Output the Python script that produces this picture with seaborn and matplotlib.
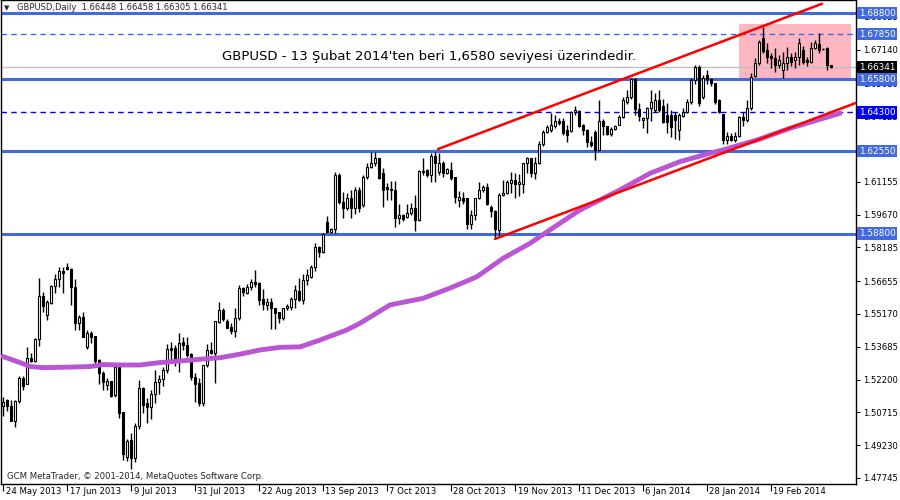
import matplotlib
matplotlib.use("Agg")
import matplotlib.pyplot as plt
import matplotlib.transforms as mtransforms
from matplotlib.patches import Rectangle
import numpy as np
import pandas as pd
import seaborn as sns

sns.set_theme(style="white")
plt.rcParams["font.family"] = ["DejaVu Sans"]

# GBPUSD daily candles (bar index 0 = 24 May 2013)
opens = [
    1.5102, 1.5128, 1.5101, 1.5034, 1.5125, 1.5229, 1.5202, 1.5319, 1.5306, 1.5403,
    1.5599, 1.5511, 1.5568, 1.5644, 1.5674, 1.5713, 1.5729, 1.5720, 1.5638, 1.5478,
    1.5502, 1.5369, 1.5430, 1.5418, 1.5309, 1.5251, 1.5196, 1.5214, 1.5150, 1.5294,
    1.5074, 1.4868, 1.4947, 1.4864, 1.5010, 1.5181, 1.5113, 1.5095, 1.5155, 1.5209,
    1.5221, 1.5264, 1.5364, 1.5364, 1.5309, 1.5389, 1.5377, 1.5335, 1.5233, 1.5206,
    1.5113, 1.5285, 1.5354, 1.5342, 1.5482, 1.5535, 1.5485, 1.5457, 1.5440, 1.5498,
    1.5634, 1.5614, 1.5641, 1.5664, 1.5656, 1.5584, 1.5559, 1.5572, 1.5546, 1.5525,
    1.5498, 1.5543, 1.5550, 1.5584, 1.5621, 1.5581, 1.5671, 1.5686, 1.5729, 1.5819,
    1.5799, 1.5934, 1.5890, 1.5901, 1.6147, 1.6026, 1.5996, 1.6041, 1.5996, 1.6079,
    1.6010, 1.6136, 1.6184, 1.6199, 1.6222, 1.6157, 1.6090, 1.6082, 1.6079, 1.5951,
    1.5966, 1.5955, 1.5976, 1.5996, 1.5943, 1.6162, 1.6169, 1.6147, 1.6233, 1.6160,
    1.6199, 1.6157, 1.6169, 1.6139, 1.6033, 1.6044, 1.6041, 1.5923, 1.5964, 1.6041,
    1.6079, 1.6094, 1.6000, 1.5985, 1.5898, 1.6056, 1.6066, 1.6109, 1.6124, 1.6106,
    1.6106, 1.6199, 1.6222, 1.6154, 1.6202, 1.6287, 1.6343, 1.6350, 1.6368, 1.6392,
    1.6392, 1.6350, 1.6347, 1.6430, 1.6438, 1.6373, 1.6350, 1.6297, 1.6343, 1.6260,
    1.6392, 1.6368, 1.6332, 1.6354, 1.6373, 1.6411, 1.6476, 1.6501, 1.6580, 1.6444,
    1.6396, 1.6403, 1.6448, 1.6441, 1.6486, 1.6460, 1.6420, 1.6420, 1.6418, 1.6350,
    1.6413, 1.6433, 1.6479, 1.6577, 1.6637, 1.6501, 1.6600, 1.6580, 1.6562, 1.6486,
    1.6423, 1.6305, 1.6323, 1.6305, 1.6323, 1.6408, 1.6396, 1.6449, 1.6595, 1.6652,
    1.6765, 1.6713, 1.6685, 1.6675, 1.6645, 1.6622, 1.6655, 1.6682, 1.6667, 1.6682,
    1.6713, 1.6667, 1.6660, 1.6720, 1.6739, 1.6718, 1.6720, 1.66448,
]
highs = [
    1.5143, 1.5131, 1.5128, 1.5128, 1.5236, 1.5236, 1.5369, 1.5342, 1.5410, 1.5679,
    1.5618, 1.5581, 1.5650, 1.5698, 1.5731, 1.5731, 1.5747, 1.5724, 1.5674, 1.5513,
    1.5528, 1.5445, 1.5442, 1.5418, 1.5312, 1.5260, 1.5226, 1.5214, 1.5294, 1.5294,
    1.5075, 1.4950, 1.4980, 1.5022, 1.5218, 1.5188, 1.5135, 1.5173, 1.5264, 1.5241,
    1.5279, 1.5381, 1.5392, 1.5377, 1.5430, 1.5412, 1.5412, 1.5339, 1.5251, 1.5226,
    1.5285, 1.5380, 1.5392, 1.5485, 1.5573, 1.5543, 1.5495, 1.5475, 1.5543, 1.5649,
    1.5638, 1.5653, 1.5674, 1.5716, 1.5664, 1.5629, 1.5590, 1.5588, 1.5546, 1.5528,
    1.5546, 1.5562, 1.5595, 1.5649, 1.5679, 1.5698, 1.5720, 1.5739, 1.5837, 1.5825,
    1.5884, 1.5961, 1.5905, 1.6159, 1.6154, 1.6071, 1.6064, 1.6079, 1.6090, 1.6090,
    1.6145, 1.6199, 1.6252, 1.6252, 1.6225, 1.6177, 1.6112, 1.6121, 1.6121, 1.6015,
    1.5970, 1.6015, 1.6021, 1.6056, 1.6169, 1.6222, 1.6175, 1.6245, 1.6252, 1.6248,
    1.6210, 1.6180, 1.6204, 1.6139, 1.6075, 1.6069, 1.6041, 1.5988, 1.6041, 1.6116,
    1.6101, 1.6112, 1.6011, 1.5988, 1.6064, 1.6124, 1.6124, 1.6162, 1.6155, 1.6150,
    1.6202, 1.6229, 1.6222, 1.6230, 1.6300, 1.6350, 1.6373, 1.6429, 1.6420, 1.6403,
    1.6403, 1.6373, 1.6436, 1.6459, 1.6441, 1.6377, 1.6353, 1.6323, 1.6350, 1.6486,
    1.6398, 1.6368, 1.6366, 1.6373, 1.6420, 1.6500, 1.6531, 1.6585, 1.6585, 1.6471,
    1.6411, 1.6456, 1.6530, 1.6520, 1.6530, 1.6490, 1.6471, 1.6441, 1.6433, 1.6426,
    1.6450, 1.6490, 1.6585, 1.6645, 1.6645, 1.6600, 1.6622, 1.6586, 1.6562, 1.6490,
    1.6423, 1.6343, 1.6338, 1.6343, 1.6414, 1.6433, 1.6486, 1.6607, 1.6675, 1.6758,
    1.6815, 1.6743, 1.6698, 1.6720, 1.6690, 1.6705, 1.6728, 1.6700, 1.6705, 1.6765,
    1.6730, 1.6680, 1.6750, 1.6758, 1.6788, 1.6722, 1.6725, 1.66458,
]
lows = [
    1.5057, 1.5079, 1.5034, 1.5003, 1.5113, 1.5173, 1.5202, 1.5300, 1.5300, 1.5374,
    1.5528, 1.5490, 1.5560, 1.5614, 1.5641, 1.5611, 1.5716, 1.5558, 1.5445, 1.5445,
    1.5412, 1.5359, 1.5385, 1.5286, 1.5200, 1.5173, 1.5173, 1.5143, 1.5143, 1.5048,
    1.4856, 1.4852, 1.4814, 1.4848, 1.4995, 1.5070, 1.5022, 1.5040, 1.5113, 1.5154,
    1.5191, 1.5251, 1.5309, 1.5283, 1.5256, 1.5354, 1.5324, 1.5218, 1.5120, 1.5098,
    1.5101, 1.5276, 1.5336, 1.5203, 1.5475, 1.5487, 1.5452, 1.5427, 1.5415, 1.5490,
    1.5600, 1.5606, 1.5626, 1.5638, 1.5558, 1.5535, 1.5535, 1.5448, 1.5448, 1.5475,
    1.5490, 1.5535, 1.5535, 1.5546, 1.5578, 1.5560, 1.5650, 1.5679, 1.5713, 1.5777,
    1.5792, 1.5883, 1.5885, 1.5883, 1.6015, 1.5950, 1.5988, 1.5950, 1.5969, 1.5980,
    1.6000, 1.6130, 1.6177, 1.6186, 1.6127, 1.6000, 1.6033, 1.6033, 1.5913, 1.5925,
    1.5938, 1.5950, 1.5966, 1.5893, 1.5940, 1.6147, 1.6138, 1.6116, 1.6116, 1.6147,
    1.6138, 1.6150, 1.6124, 1.6018, 1.6000, 1.6015, 1.5902, 1.5902, 1.5943, 1.6037,
    1.6071, 1.6011, 1.5958, 1.5857, 1.5875, 1.6050, 1.6060, 1.6064, 1.6041, 1.6050,
    1.6067, 1.6157, 1.6139, 1.6130, 1.6195, 1.6280, 1.6335, 1.6343, 1.6360, 1.6373,
    1.6328, 1.6297, 1.6343, 1.6420, 1.6366, 1.6328, 1.6275, 1.6275, 1.6215, 1.6255,
    1.6328, 1.6328, 1.6325, 1.6350, 1.6373, 1.6405, 1.6470, 1.6490, 1.6420, 1.6393,
    1.6358, 1.6335, 1.6390, 1.6430, 1.6430, 1.6380, 1.6335, 1.6320, 1.6308, 1.6305,
    1.6410, 1.6425, 1.6470, 1.6560, 1.6460, 1.6490, 1.6560, 1.6550, 1.6470, 1.6425,
    1.6287, 1.6287, 1.6302, 1.6297, 1.6317, 1.6368, 1.6388, 1.6441, 1.6589, 1.6645,
    1.6700, 1.6652, 1.6630, 1.6614, 1.6630, 1.6585, 1.6622, 1.6640, 1.6630, 1.6645,
    1.6650, 1.6640, 1.6652, 1.6715, 1.6698, 1.6712, 1.6622, 1.66305,
]
closes = [
    1.5120, 1.5098, 1.5034, 1.5125, 1.5229, 1.5193, 1.5317, 1.5306, 1.5403, 1.5599,
    1.5551, 1.5572, 1.5644, 1.5674, 1.5713, 1.5701, 1.5720, 1.5638, 1.5478, 1.5502,
    1.5412, 1.5430, 1.5415, 1.5304, 1.5251, 1.5208, 1.5214, 1.5147, 1.5279, 1.5068,
    1.4882, 1.4944, 1.4864, 1.5010, 1.5181, 1.5104, 1.5095, 1.5155, 1.5209, 1.5221,
    1.5264, 1.5357, 1.5354, 1.5309, 1.5385, 1.5377, 1.5332, 1.5233, 1.5200, 1.5116,
    1.5285, 1.5354, 1.5342, 1.5485, 1.5535, 1.5495, 1.5455, 1.5440, 1.5498, 1.5634,
    1.5618, 1.5641, 1.5664, 1.5652, 1.5581, 1.5562, 1.5572, 1.5543, 1.5523, 1.5498,
    1.5543, 1.5553, 1.5584, 1.5626, 1.5581, 1.5671, 1.5694, 1.5731, 1.5819, 1.5799,
    1.5880, 1.5890, 1.5902, 1.6147, 1.6026, 1.5996, 1.6041, 1.5996, 1.6079, 1.5996,
    1.6136, 1.6184, 1.6199, 1.6222, 1.6132, 1.6079, 1.6082, 1.6079, 1.5951, 1.5966,
    1.5947, 1.5976, 1.5996, 1.5943, 1.6166, 1.6166, 1.6147, 1.6233, 1.6199, 1.6202,
    1.6157, 1.6172, 1.6132, 1.6046, 1.6048, 1.6030, 1.5923, 1.5964, 1.6041, 1.6079,
    1.6091, 1.6014, 1.5985, 1.5901, 1.6056, 1.6066, 1.6116, 1.6124, 1.6106, 1.6115,
    1.6199, 1.6222, 1.6154, 1.6202, 1.6287, 1.6343, 1.6363, 1.6373, 1.6392, 1.6381,
    1.6335, 1.6328, 1.6430, 1.6441, 1.6370, 1.6350, 1.6297, 1.6282, 1.6260, 1.6392,
    1.6368, 1.6332, 1.6354, 1.6368, 1.6411, 1.6486, 1.6501, 1.6580, 1.6444, 1.6414,
    1.6403, 1.6448, 1.6479, 1.6486, 1.6441, 1.6388, 1.6388, 1.6365, 1.6396, 1.6418,
    1.6433, 1.6478, 1.6577, 1.6637, 1.6471, 1.6584, 1.6580, 1.6562, 1.6478, 1.6433,
    1.6305, 1.6323, 1.6305, 1.6323, 1.6408, 1.6396, 1.6449, 1.6592, 1.6652, 1.6750,
    1.6709, 1.6680, 1.6675, 1.6645, 1.6667, 1.6655, 1.6682, 1.6660, 1.6682, 1.6743,
    1.6660, 1.6660, 1.6720, 1.6743, 1.6713, 1.6717, 1.6645, 1.66341,
]

# moving average (purple), bar index -> price
ma_idx = [0, 1.75, 4.25, 6.75, 10, 16, 21.75, 25, 29.25, 34.25, 39.25, 44.25, 49.25,
          54.25, 59.25, 64.25, 69.25, 74.25, 79.25, 86, 89.25, 96.75, 105, 111.75,
          118.5, 125, 131.75, 136.75, 144.25, 154.25, 161.75, 169.25, 176.75, 180,
          188.5, 196.75, 205, 209.25]
ma_val = [1.5324, 1.5313, 1.5297, 1.5279, 1.5274, 1.5276, 1.5279, 1.5288, 1.5286,
          1.5286, 1.5297, 1.5304, 1.5312, 1.5319, 1.5335, 1.5354, 1.5366, 1.5368,
          1.5399, 1.5445, 1.5475, 1.5558, 1.5588, 1.5634, 1.5686, 1.5769, 1.5837,
          1.5898, 1.5988, 1.6079, 1.6154, 1.6207, 1.6245, 1.6260, 1.6305, 1.6358,
          1.6403, 1.6426]

# trend channel lines
upper_x = [108.75, 204.75]
upper_y = [1.6264, 1.6922]
lower_x = [123, 213.25]
lower_y = [1.5857, 1.6473]

# horizontal levels
solid_levels = [1.6880, 1.6580, 1.6255, 1.5880]
dashed_levels = [1.6785, 1.6430]
dashed_colors = ["#4169E1", "#0000FF"]
last_price = 1.66341

# highlighted zone since 13 Feb 2014
zone_x = [184, 212]
zone_y = [1.6586, 1.6830]

# right axis
tick_vals = [1.47745, 1.49230, 1.50715, 1.52200, 1.53685, 1.55170, 1.56655, 1.58185,
             1.59670, 1.61155, 1.64125, 1.65610, 1.67140, 1.68625]
tick_text = ["1.47745", "1.49230", "1.50715", "1.52200", "1.53685", "1.55170", "1.56655",
             "1.58185", "1.59670", "1.61155", "1.64125", "1.65610", "1.67140", "1.68625"]
box_vals = [1.68800, 1.67850, 1.66341, 1.65800, 1.64300, 1.62550, 1.58800]
box_colors = ["#4169E1", "#4169E1", "#000000", "#4169E1", "#0000FF", "#4169E1", "#4169E1"]

# bottom axis
date_pos = [0, 16, 32, 48, 64, 80, 96, 112, 128, 144, 160, 176, 192]
date_labels = ["24 May 2013", "17 Jun 2013", "9 Jul 2013", "31 Jul 2013", "22 Aug 2013",
               "13 Sep 2013", "7 Oct 2013", "28 Oct 2013", "19 Nov 2013", "11 Dec 2013",
               "6 Jan 2014", "28 Jan 2014", "19 Feb 2014"]

candles = pd.DataFrame({"open": opens, "high": highs, "low": lows, "close": closes})
candles["x"] = np.arange(len(candles))
rising = candles["close"] >= candles["open"]

fig = plt.figure(figsize=(9, 5), dpi=100)
ax = fig.add_axes([1 / 900, 16 / 500, 855 / 900, 484 / 500])
ax.set_xlim(-0.5, 213.25)
ax.set_ylim(1.4747, 1.6939)
ax.set_facecolor("white")

ax.add_patch(Rectangle((zone_x[0], zone_y[0]), zone_x[1] - zone_x[0], zone_y[1] - zone_y[0],
                       facecolor="#FFB6C1", edgecolor="none", zorder=1))

for lv in solid_levels:
    ax.axhline(lv, color="#4169E1", lw=2.2, zorder=2)
for lv, col in zip(dashed_levels, dashed_colors):
    ax.axhline(lv, color=col, lw=1, ls=(0, (4, 3)), zorder=2)
ax.axhline(last_price, color="#C0C0C0", lw=1, zorder=2)

# candles
ax.vlines(candles["x"], candles["low"], candles["high"], color="black", lw=1, zorder=3)
body_bottom = np.minimum(candles["open"], candles["close"])
body_height = np.maximum((candles["close"] - candles["open"]).abs(), 0.00008)
ax.bar(candles["x"], body_height, bottom=body_bottom, width=0.68,
       color=np.where(rising, "white", "black"), edgecolor="black", linewidth=0.8, zorder=4)

sns.lineplot(x=ma_idx, y=ma_val, ax=ax, color="#BA55D3", lw=3.5, zorder=5)
sns.lineplot(x=upper_x, y=upper_y, ax=ax, color="#FF0000", lw=1.8, zorder=5)
sns.lineplot(x=lower_x, y=lower_y, ax=ax, color="#FF0000", lw=1.8, zorder=5)

# axes styling
for s in ax.spines.values():
    s.set_color("black")
    s.set_linewidth(1)
ax.yaxis.tick_right()
ax.set_yticks(tick_vals, tick_text)
ax.tick_params(axis="y", right=True, left=False, length=3, width=0.8, labelsize=6.1,
               pad=2, colors="black")
ax.set_xticks(date_pos, date_labels)
ax.tick_params(axis="x", bottom=True, length=5, width=0.8, labelsize=6.1, pad=-2.5,
               colors="black")
ax.set_xlabel("")
ax.set_ylabel("")
ax.grid(False)

# date labels sit just right of their tick, left aligned
offset = mtransforms.ScaledTranslation(2.5 / 100, 0, fig.dpi_scale_trans)
for lab in ax.get_xticklabels():
    lab.set_horizontalalignment("left")
    lab.set_transform(lab.get_transform() + offset)

trans = mtransforms.blended_transform_factory(ax.transAxes, ax.transData)
for v, c in zip(box_vals, box_colors):
    ax.text(1.003, v, f"{v:.5f}", transform=trans, ha="left", va="center", fontsize=6.4,
            color="white", zorder=10, clip_on=False,
            bbox=dict(boxstyle="square,pad=0.22", fc=c, ec="none"))

ax.text(0.004, 0.984, "\u25bc", transform=ax.transAxes, fontsize=5, va="center", ha="left",
        zorder=1)
ax.text(0.019, 0.984, "GBPUSD,Daily  1.66448 1.66458 1.66305 1.66341",
        transform=ax.transAxes, fontsize=6.0, va="center", ha="left", zorder=1)
ax.text(0.007, 0.0165, "GCM MetaTrader, \u00a9 2001-2014, MetaQuotes Software Corp.",
        transform=ax.transAxes, fontsize=6.1, va="center", ha="left")
ax.text(54.75, 1.6681, "GBPUSD - 13 \u015eubat 2014'ten beri 1,6580 seviyesi \u00fczerindedir.",
        fontsize=9.5, va="center", ha="left", color="black", zorder=6)

fig.savefig("out.png", dpi=100)
